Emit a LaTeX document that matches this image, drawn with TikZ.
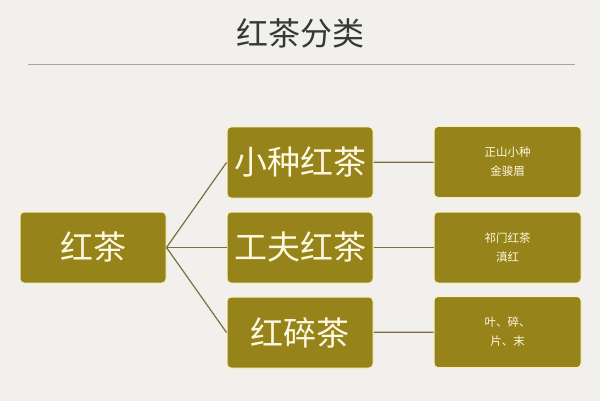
\documentclass[tikz,border=0pt]{standalone}
\usepackage{fontspec}
\usepackage{tikz}
\newfontfamily\cjk{Noto Sans CJK SC}
\definecolor{teaback}{RGB}{241,240,236}
\definecolor{teabox}{RGB}{150,131,26}
\definecolor{teaedge}{RGB}{250,240,190}
\definecolor{teatext}{RGB}{255,248,225}
\definecolor{tealine}{RGB}{125,112,62}
\tikzset{
  teabig/.style={fill=teabox,draw=teaedge,line width=1pt,rounded corners=4pt,
    minimum width=146pt,minimum height=71pt,inner sep=0pt,
    text=teatext,font=\cjk\fontsize{33}{36}\selectfont},
  teasmall/.style={teabig,minimum width=147pt,align=center,
    font=\cjk\fontsize{11.5}{19}\selectfont},
  branch/.style={draw=tealine,line width=1.2pt}
}

\begin{document}
\begin{tikzpicture}[x=1pt,y=-1pt]
\fill [teaback] (0,0) rectangle (600,401);
\useasboundingbox (0,0) rectangle (600,401);
% title
\node (title) at (300,33) {\cjk\fontsize{32}{36}\selectfont\color[RGB]{55,55,55}红茶分类};
\draw [draw=gray!70,line width=0.8pt] (28,64) -- (575,64);
% boxes
\node [teabig] (root) at (93,247.5) {红茶};
\node [teabig] (xz) at (300,162.5) {小种红茶};
\node [teabig] (gf) at (300,247.5) {工夫红茶};
\node [teabig] (sc) at (300,332.5) {红碎茶};
\node [teasmall] (xzk) at (507.5,162) {正山小种\\金骏眉};
\node [teasmall] (gfk) at (507.5,247.5) {祁门红茶\\滇红};
\node [teasmall] (sck) at (507.5,332) {叶、碎、\\片、末};
% lines
\foreach \m in {xz,gf,sc}
  \draw [branch] (root.east) -- (\m.west);
\draw [branch] (xz) -- (xzk);
\draw [branch] (gf) -- (gfk);
\draw [branch] (sc) -- (sck);
\end{tikzpicture}
\end{document}
